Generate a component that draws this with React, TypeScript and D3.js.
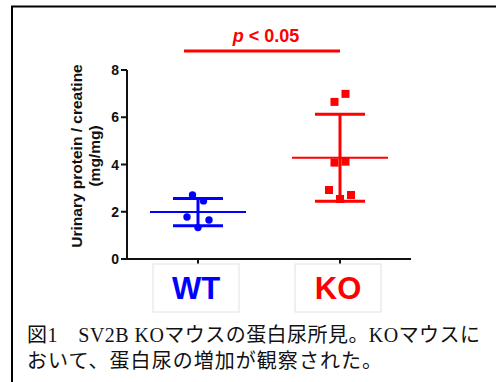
import React from "react";
import * as d3 from "d3";

// data
const groups = ["WT", "KO"];
const wtValues = [2.71, 2.46, 1.78, 1.65, 1.33];
const koValues = [6.65, 6.99, 4.08, 4.12, 2.92, 2.71, 2.54];
const yTicks = [0, 2, 4, 6, 8];
const yLabelLines = ["Urinary protein / creatine", "(mg/mg)"];
const captionLines = [
  "図1　SV2B KOマウスの蛋白尿所見。KOマウスに",
  "おいて、蛋白尿の増加が観察された。",
];

const W = 496;
const H = 382;
const BLUE = "#0000ff";
const RED = "#ff0000";
const SANS = "'Liberation Sans', Arial, sans-serif";

const x = d3.scalePoint<string>().domain(groups).range([127, 411]).padding(0.5);
const y = d3.scaleLinear().domain([0, 8]).range([259, 70]);

// GraphPad-like scatter: points close in y share a row and get spread sideways
function swarm(values: number[], gap = 9, spacing = 11) {
  const order = d3.range(values.length).sort((a, b) => values[b] - values[a]);
  const rows: number[][] = [];
  order.forEach((i) => {
    const row = rows[rows.length - 1];
    if (row && Math.abs(y(values[i]) - y(values[row[row.length - 1]])) < gap) row.push(i);
    else rows.push([i]);
  });
  const offsets = new Array(values.length).fill(0);
  rows.forEach((row) => {
    const n = row.length;
    const pos = d3.range(n).map((k) => k - (n - 1) / 2);
    const slots: number[] = [];
    let lo = 0, hi = n - 1;
    while (lo <= hi) {
      if (lo === hi) slots.push(pos[lo]);
      else slots.push(pos[lo], pos[hi]);
      lo++; hi--;
    }
    [...row].sort((a, b) => a - b).forEach((idx, k) => (offsets[idx] = slots[k] * spacing));
  });
  return offsets;
}

const series = [
  { name: "WT", values: wtValues, color: BLUE, shape: "circle" },
  { name: "KO", values: koValues, color: RED, shape: "square" },
];

export default function App() {
  return (
    <svg
      width={W}
      height={H}
      style={{ position: "fixed", left: 0, top: 0, background: "#fff" }}
    >
      <rect x={12} y={6.5} width={W} height={H} fill="#fff" stroke="#000" strokeWidth={2} />

      {/* significance bar */}
      <text x={266} y={42} textAnchor="middle" fill={RED} fontFamily={SANS} fontWeight="bold" fontSize={18}>
        <tspan fontStyle="italic">p</tspan> {"< 0.05"}
      </text>
      <line x1={x("WT")! - 14} x2={x("KO")!} y1={51} y2={51} stroke={RED} strokeWidth={3} />

      {/* y axis */}
      <line x1={127} x2={127} y1={y(8)} y2={y(0) + 1} stroke="#111" strokeWidth={2} />
      {yTicks.map((t) => (
        <g key={t}>
          <line x1={121} x2={127} y1={y(t)} y2={y(t)} stroke="#111" strokeWidth={2} />
          <text x={119} y={y(t)} dy="0.36em" textAnchor="end" fontFamily={SANS} fontWeight="bold" fontSize={14} fill="#111">
            {t}
          </text>
        </g>
      ))}
      {yLabelLines.map((l, i) => (
        <text
          key={l}
          transform={`translate(${82 + i * 18},156) rotate(-90)`}
          textAnchor="middle"
          fontFamily={SANS}
          fontWeight="bold"
          fontSize={15.5}
          fill="#111"
        >
          {l}
        </text>
      ))}

      {/* x axis */}
      <line x1={126} x2={411} y1={y(0)} y2={y(0)} stroke="#111" strokeWidth={2} />
      {series.map((s) => (
        <g key={s.name}>
          <line x1={x(s.name)} x2={x(s.name)} y1={y(0)} y2={y(0) + 6} stroke="#111" strokeWidth={2} />
          <rect x={x(s.name)! - 45} y={264} width={86} height={48} fill="#fff" stroke="#e2e2e2" strokeWidth={1} />
          <text x={x(s.name)! - 2} y={299} textAnchor="middle" fontFamily={SANS} fontWeight="bold" fontSize={31} fill={s.color}>
            {s.name}
          </text>
        </g>
      ))}

      {/* mean ± SD and points */}
      {series.map((s) => {
        const cx = x(s.name)!;
        const m = d3.mean(s.values)!;
        const sd = d3.deviation(s.values)!;
        const off = swarm(s.values);
        return (
          <g key={s.name}>
            <line x1={cx} x2={cx} y1={y(m + sd)} y2={y(m - sd)} stroke={s.color} strokeWidth={3} />
            <line x1={cx - 25} x2={cx + 25} y1={y(m + sd)} y2={y(m + sd)} stroke={s.color} strokeWidth={3} />
            <line x1={cx - 25} x2={cx + 25} y1={y(m - sd)} y2={y(m - sd)} stroke={s.color} strokeWidth={3} />
            <line x1={cx - 48} x2={cx + 48} y1={y(m)} y2={y(m)} stroke={s.color} strokeWidth={2} />
            {s.values.map((v, i) =>
              s.shape === "circle" ? (
                <circle key={i} cx={cx + off[i]} cy={y(v)} r={3.7} fill={s.color} />
              ) : (
                <rect key={i} x={cx + off[i] - 4} y={y(v) - 4} width={8} height={8} fill={s.color} />
              )
            )}
          </g>
        );
      })}

      {/* caption */}
      {captionLines.map((l, i) => (
        <text
          key={i}
          x={27}
          y={342 + i * 26}
          fontFamily="'Liberation Serif', 'Noto Sans CJK JP', serif"
          fontSize={20}
          fill="#111"
          textLength={i === 0 ? 453 : 355}
          lengthAdjust="spacing"
        >
          {l}
        </text>
      ))}
    </svg>
  );
}
